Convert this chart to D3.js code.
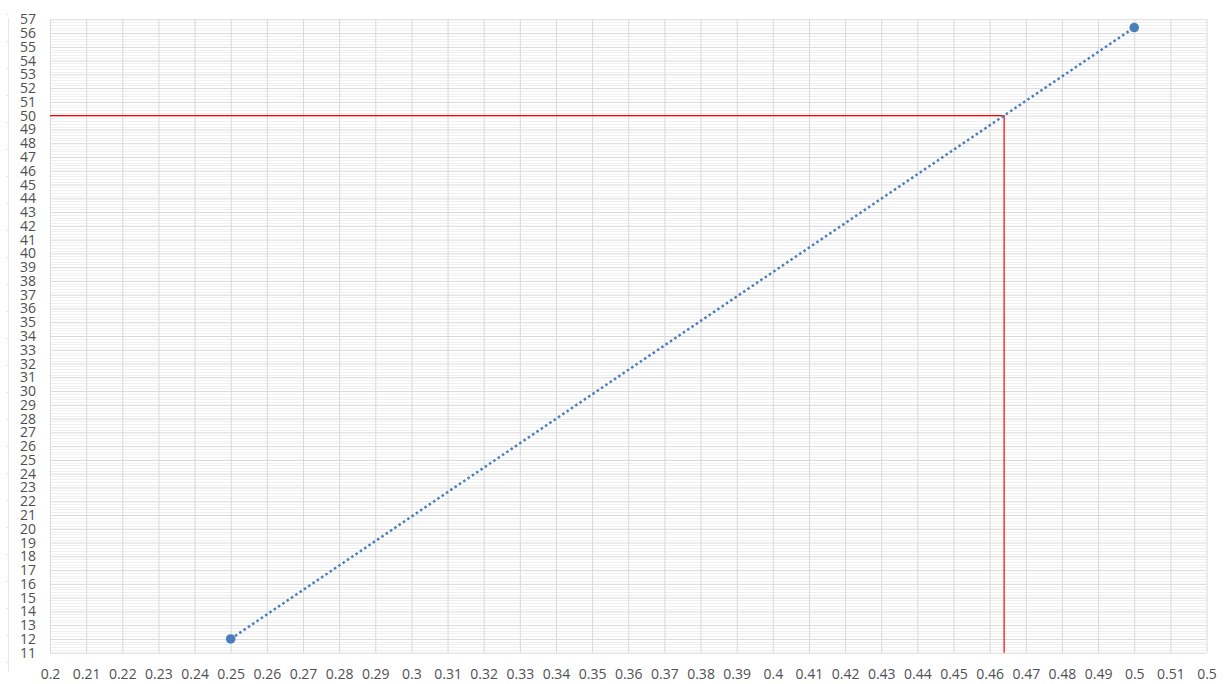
<!DOCTYPE html>
<html>
<head>
<meta charset="utf-8">
<script src="https://cdn.jsdelivr.net/npm/d3@7"></script>
<style>
html,body{margin:0;padding:0;background:#fff;}
svg{display:block;font-family:"Open Sans","Noto Sans","DejaVu Sans",sans-serif;}
</style>
</head>
<body>
<svg id="chart" width="1226" height="684"></svg>
<script>
// Data
const xTicks = [0.2,0.21,0.22,0.23,0.24,0.25,0.26,0.27,0.28,0.29,0.3,0.31,0.32,0.33,0.34,0.35,0.36,0.37,0.38,0.39,0.4,0.41,0.42,0.43,0.44,0.45,0.46,0.47,0.48,0.49,0.5,0.51,0.52];
const xTickLabels = ["0.2","0.21","0.22","0.23","0.24","0.25","0.26","0.27","0.28","0.29","0.3","0.31","0.32","0.33","0.34","0.35","0.36","0.37","0.38","0.39","0.4","0.41","0.42","0.43","0.44","0.45","0.46","0.47","0.48","0.49","0.5","0.51","0.5"];
const yTicks = d3.range(11, 58, 1);
const seriesX = [0.25, 0.5];
const seriesY = [12, 56.4];
const targetY = 50;
const targetX = 0.464;

const svg = d3.select("#chart");
const m = {left: 50, right: 1206.5, top: 19.3, bottom: 652.7};
const x = d3.scaleLinear().domain([0.2, 0.52]).range([m.left, m.right]);
const y = d3.scaleLinear().domain([11, 57]).range([m.bottom, m.top]);

// faint outer axis line at far left
const g0 = svg.append("g");
g0.append("line").attr("x1",8.5).attr("x2",8.5).attr("y1",18).attr("y2",672).attr("stroke","#e6e6e6");
d3.range(14, 672, 27).forEach(v=>{
  g0.append("line").attr("x1",6).attr("x2",8.5).attr("y1",v+0.5).attr("y2",v+0.5).attr("stroke","#e6e6e6");
});

// minor horizontal gridlines
const minor = d3.range(11, 57, 0.2).filter(v => Math.abs(v - Math.round(v)) > 1e-6);
svg.append("g").selectAll("line").data(minor).join("line")
  .attr("x1", m.left).attr("x2", m.right)
  .attr("y1", d => Math.round(y(d)) + 0.5).attr("y2", d => Math.round(y(d)) + 0.5)
  .attr("stroke", "#f0f0f0").attr("stroke-width", 1);

// major gridlines
const gx = svg.append("g").attr("transform", `translate(0,${m.bottom})`)
  .call(d3.axisBottom(x).tickValues(xTicks).tickSize(-(m.bottom - m.top)).tickFormat((d,i)=>xTickLabels[i]));
gx.select(".domain").remove();
gx.selectAll(".tick line").attr("stroke", "#d9d9d9");
gx.selectAll(".tick text").attr("fill", "#505050").attr("font-size", "14px").attr("y", 16).attr("dy", "0.71em")
  .attr("font-family", "'Open Sans',sans-serif");

const gy = svg.append("g").attr("transform", `translate(${m.left},0)`)
  .call(d3.axisLeft(y).tickValues(yTicks).tickSize(-(m.right - m.left)).tickFormat(d3.format("d")));
gy.select(".domain").remove();
gy.selectAll(".tick line").attr("stroke", "#d9d9d9");
gy.selectAll(".tick text").attr("fill", "#505050").attr("font-size", "14px").attr("x", -14)
  .attr("font-family", "'Open Sans',sans-serif");

// red target lines
svg.append("path")
  .attr("d", d3.line()([[x(0.2), y(targetY)], [x(targetX), y(targetY)], [x(targetX), y(11)]]))
  .attr("fill", "none").attr("stroke", "#ff0000").attr("stroke-width", 1.2);

// series dotted line
const pts = seriesX.map((d,i)=>[x(d), y(seriesY[i])]);
svg.append("path").attr("d", d3.line()(pts))
  .attr("fill","none").attr("stroke","#4a7ebb").attr("stroke-width",2.5)
  .attr("stroke-dasharray","2.5,2.7").attr("stroke-linecap","butt");

svg.append("g").selectAll("circle").data(pts).join("circle")
  .attr("cx", d=>d[0]).attr("cy", d=>d[1]).attr("r", 4.8).attr("fill", "#4a7ebb");
</script>
</body>
</html>
